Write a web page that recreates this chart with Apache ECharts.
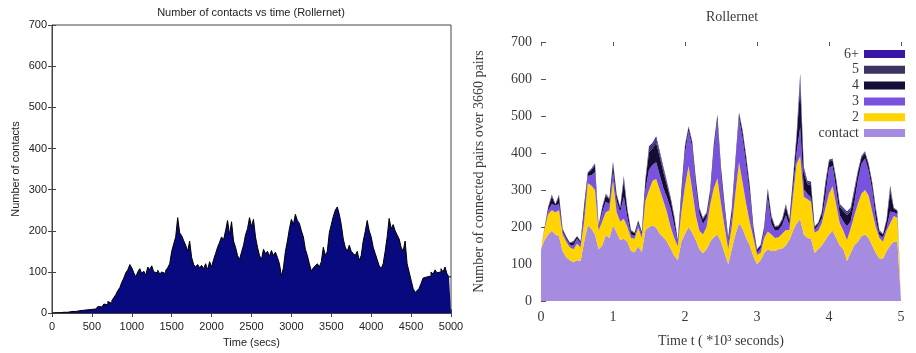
<!DOCTYPE html>
<html>
<head>
<meta charset="utf-8">
<script src="https://cdn.jsdelivr.net/npm/echarts/dist/echarts.min.js"></script>
<style>
html, body { margin: 0; padding: 0; background: #fff; }
#chart { width: 916px; height: 353px; }
</style>
</head>
<body>
<div id="chart"></div>
<script>
// ---- Left panel: contacts per 25 s bin over the Rollernet trace ----
const binWidthSecs = 25;
const histCounts = [
  0,1,0,1, 1,2,1,2, 3,4,5,4, 5,6,4,7, 6,8,10,9,
  12,10,14,16, 15,18,22,20, 28,24,30,38, 45,55,62,75, 85,98,105,118,
  110,98,88,100, 108,96,102,92, 112,106,115,100, 98,104,95,100, 96,104,110,120,
  150,168,185,232, 195,188,176,165, 150,175,135,118, 112,118,110,116, 108,120,105,125,
  112,130,145,160, 172,185,178,200, 225,190,222,175, 160,140,130,148, 165,190,205,232,
  210,228,185,160, 140,130,155,145, 150,138,152,140, 148,135,120,90, 110,150,175,205,
  228,215,240,225, 218,200,185,155, 140,120,102,110, 115,120,112,125, 160,140,150,195,
  215,235,250,258, 240,215,180,160, 150,165,150,145, 140,150,128,140, 175,198,225,200,
  185,160,145,130, 115,108,120,150, 185,230,205,215, 200,190,180,160, 150,175,120,100,
  80,60,50,55, 60,72,85,88, 92,90,100,95, 105,98,100,108, 100,112,95,88
];
const histTicks = ['0','500','1000','1500','2000','2500','3000','3500','4000','4500','5000'];

// ---- Right panel: connected pairs by hop count, sampled every 0.05 x 10^3 s ----
const stepKilo = 0.05;
const samplesPerUnit = 20;
const pairsContact = [
  140,165,180,190,180,175,135,118,110,105,
  110,108,160,205,195,180,140,150,178,170,
  205,185,165,168,160,135,132,148,132,192,
  200,205,198,182,172,160,142,122,110,160,
  182,200,185,165,140,130,140,160,172,180,
  160,130,100,140,180,210,195,170,150,120,
  100,110,130,140,135,135,140,142,150,165,
  190,210,220,180,170,168,130,140,150,165,
  180,190,170,150,140,108,130,150,160,175,
  180,170,150,130,115,115,135,150,160,160,
  0
];
const pairsTwo = [
  2,30,55,55,60,70,45,42,35,35,
  45,37,55,113,117,120,50,65,62,75,
  120,55,50,54,40,35,36,50,38,78,
  100,120,132,118,98,80,58,48,38,80,
  128,165,115,67,50,50,60,100,133,152,
  102,70,40,60,110,165,125,92,62,50,
  25,20,40,48,45,35,32,40,42,27,
  92,160,172,102,105,100,55,50,60,85,
  110,120,90,60,50,57,65,80,102,115,
  120,115,92,70,55,45,55,60,70,65,
  0
];
const pairsThree = [
  0,3,10,17,18,17,8,8,7,10,
  13,11,25,20,28,48,8,25,28,17,
  25,30,25,60,25,10,8,12,10,30,
  55,43,45,40,35,40,50,35,10,40,
  90,95,115,78,45,28,25,25,100,158,
  78,45,20,30,75,120,120,103,78,15,
  7,12,18,92,28,20,20,23,40,13,
  23,30,78,20,15,12,7,15,12,32,
  70,55,40,22,25,37,20,32,63,80,
  85,67,58,20,8,12,8,32,10,10,
  0
];
const pairsFour = [
  0,2,8,20,3,20,5,5,5,9,
  6,5,17,8,14,18,5,11,17,12,
  21,15,11,42,19,9,7,6,6,23,
  47,45,52,49,43,32,24,20,5,17,
  16,9,13,17,13,13,11,13,15,11,
  17,13,9,17,13,11,17,21,17,13,
  6,8,10,19,18,9,10,13,23,13,
  20,39,109,45,26,32,8,5,15,30,
  17,15,24,23,28,30,28,30,20,17,
  15,15,17,24,10,8,18,53,9,8,
  0
];
const pairsFive = [
  0,0,1,4,1,4,1,1,1,2,
  1,1,3,1,2,4,1,2,3,2,
  4,3,2,9,4,2,1,1,1,4,
  10,9,11,10,8,6,5,4,1,3,
  4,2,2,3,2,2,2,2,3,2,
  3,2,2,3,2,2,3,4,3,2,
  1,1,2,4,4,2,2,2,4,2,
  4,8,22,9,5,6,1,1,3,6,
  3,3,5,4,5,6,5,6,4,3,
  3,3,3,5,2,1,4,10,2,1,
  0
];
const pairsSixPlus = [
  0,0,1,2,0,2,1,1,0,1,
  1,0,2,1,2,2,1,2,2,2,
  3,2,2,5,2,1,1,1,1,3,
  6,6,7,6,6,4,3,3,1,2,
  2,1,2,2,2,2,2,2,2,2,
  2,2,1,2,2,2,2,2,2,2,
  1,1,2,2,2,1,1,2,3,2,
  3,5,14,6,4,4,1,1,2,4,
  2,2,3,3,4,4,4,4,3,2,
  2,2,2,3,2,1,2,7,1,1,
  0
];
const layerNames = ['contact', '2', '3', '4', '5', '6+'];
const layerColors = ['#a58ce1', '#ffd400', '#7a52e0', '#150d35', '#3d3262', '#3a16a6'];

// ---- build series data ----
const histData = histCounts.map((v, i) => [i * binWidthSecs, v]);
histData.push([histCounts.length * binWidthSecs, histCounts[histCounts.length - 1]]);

// sample times along the category axis (x 10^3 s)
const sampleTimes = pairsContact.map((_, i) => (i * stepKilo).toFixed(2));

const layers = [pairsContact, pairsTwo, pairsThree, pairsFour, pairsFive, pairsSixPlus];
const layerSeries = layers.map((vals, li) => ({
  name: layerNames[li],
  type: 'line',
  xAxisIndex: 2,
  yAxisIndex: 2,
  stack: 'pairs',
  showSymbol: false,
  symbol: 'none',
  color: layerColors[li],
  lineStyle: { width: 0 },
  areaStyle: { color: layerColors[li], opacity: 1 },
  data: vals
}));

const sansText = { fontFamily: 'Liberation Sans', fontSize: 11, color: '#222' };
const serifText = { fontFamily: 'Liberation Serif', fontSize: 14, color: '#3a3a3a' };
const everyUnit = (idx) => idx % samplesPerUnit === 0;

const chart = echarts.init(document.getElementById('chart'), null, { renderer: 'canvas' });
chart.setOption({
  animation: false,
  backgroundColor: '#fff',
  graphic: [
    { type: 'text', x: 251, y: 13, style: { text: 'Number of contacts vs time (Rollernet)', font: '11px "Liberation Sans"', fill: '#222', textAlign: 'center', textVerticalAlign: 'middle' } },
    { type: 'text', x: 732, y: 17, style: { text: 'Rollernet', font: '14px "Liberation Serif"', fill: '#3a3a3a', textAlign: 'center', textVerticalAlign: 'middle' } }
  ],
  grid: [
    { left: 52, top: 25, width: 399, height: 293, show: true, borderColor: '#444', borderWidth: 1, backgroundColor: 'transparent' },
    { left: 541, top: 42, width: 360, height: 261, show: false }
  ],
  legend: {
    data: ['6+', '5', '4', '3', '2', 'contact'],
    orient: 'vertical',
    right: 6,
    top: 42,
    align: 'right',
    icon: 'rect',
    itemWidth: 41,
    itemHeight: 8,
    itemGap: 1.8,
    textStyle: { fontFamily: 'Liberation Serif', fontSize: 14, lineHeight: 14, color: '#3a3a3a' }
  },
  xAxis: [
    {
      type: 'value', gridIndex: 0, position: 'bottom', min: 0, max: 5000, interval: 500,
      axisLine: { show: true, lineStyle: { color: '#444' } },
      axisTick: { show: true, inside: true, length: 4, lineStyle: { color: '#444' } },
      axisLabel: Object.assign({ margin: 8, formatter: (v) => histTicks[Math.round(v / 500)] }, sansText),
      splitLine: { show: false },
      name: 'Time (secs)', nameLocation: 'middle', nameGap: 23, nameTextStyle: sansText
    },
    {
      type: 'value', gridIndex: 0, position: 'top', min: 0, max: 5000, interval: 500,
      axisLine: { show: false },
      axisTick: { show: true, inside: true, length: 4, lineStyle: { color: '#444' } },
      axisLabel: { show: false }, splitLine: { show: false }
    },
    {
      type: 'category', gridIndex: 1, position: 'bottom', data: sampleTimes, boundaryGap: false,
      axisLine: { show: false }, axisTick: { show: false },
      axisLabel: Object.assign({ margin: 9, interval: everyUnit, formatter: (v) => String(Math.round(+v)) }, serifText),
      splitLine: { show: false },
      name: 'Time t ( *10³ seconds)', nameLocation: 'middle', nameGap: 33, nameTextStyle: serifText
    },
    {
      type: 'category', gridIndex: 1, position: 'top', data: sampleTimes, boundaryGap: false,
      axisLine: { show: false },
      axisTick: { show: true, inside: true, length: 4, interval: everyUnit, lineStyle: { color: '#555' } },
      axisLabel: { show: false, interval: everyUnit }, splitLine: { show: false }
    }
  ],
  yAxis: [
    {
      type: 'value', gridIndex: 0, position: 'left', min: 0, max: 700, interval: 100,
      axisLine: { show: true, lineStyle: { color: '#444' } },
      axisTick: { show: true, inside: true, length: 4, lineStyle: { color: '#444' } },
      axisLabel: Object.assign({ margin: 5 }, sansText),
      splitLine: { show: false },
      name: 'Number of contacts', nameLocation: 'middle', nameGap: 31, nameTextStyle: sansText
    },
    {
      type: 'value', gridIndex: 0, position: 'right', min: 0, max: 700, interval: 100,
      axisLine: { show: false },
      axisTick: { show: true, inside: true, length: 4, lineStyle: { color: '#444' } },
      axisLabel: { show: false }, splitLine: { show: false }
    },
    {
      type: 'value', gridIndex: 1, position: 'left', min: 0, max: 700, interval: 100,
      axisLine: { show: false },
      axisTick: { show: true, inside: true, length: 5, lineStyle: { color: '#555' } },
      axisLabel: Object.assign({ margin: 9 }, serifText),
      splitLine: { show: false },
      name: 'Number of connected pairs over 3660 pairs', nameLocation: 'middle', nameGap: 55, nameTextStyle: serifText
    }
  ],
  series: [
    {
      name: 'contacts',
      type: 'line',
      xAxisIndex: 0,
      yAxisIndex: 0,
      step: 'end',
      showSymbol: false,
      symbol: 'none',
      color: '#08087f',
      lineStyle: { color: '#000', width: 1 },
      areaStyle: { color: '#08087f', opacity: 1 },
      data: histData
    }
  ].concat(layerSeries)
});
</script>
</body>
</html>
